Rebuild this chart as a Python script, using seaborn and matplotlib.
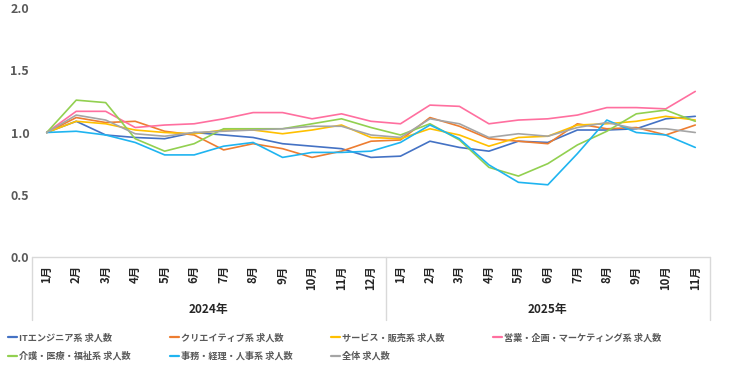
import pandas as pd
import matplotlib.pyplot as plt
import seaborn as sns
from matplotlib.lines import Line2D
from matplotlib.transforms import blended_transform_factory

# 月ラベル (2024年1月〜2025年11月)
months_2024 = [f"{m}月" for m in range(1, 13)]
months_2025 = [f"{m}月" for m in range(1, 12)]
year_labels = ["2024年", "2025年"]

series_names = [
    "ITエンジニア系 求人数",
    "クリエイティブ系 求人数",
    "サービス・販売系 求人数",
    "営業・企画・マーケティング系 求人数",
    "介護・医療・福祉系 求人数",
    "事務・経理・人事系 求人数",
    "全体 求人数",
]

it_eng = [1.00, 1.09, 0.98, 0.96, 0.95, 1.00, 0.98, 0.96, 0.91, 0.89, 0.87, 0.80,
          0.81, 0.93, 0.88, 0.85, 0.93, 0.92, 1.02, 1.02, 1.03, 1.11, 1.13]
creative = [1.00, 1.12, 1.08, 1.09, 1.01, 0.98, 0.86, 0.91, 0.87, 0.80, 0.85, 0.93,
            0.94, 1.12, 1.05, 0.95, 0.93, 0.91, 1.07, 1.03, 1.04, 0.98, 1.06]
service = [1.00, 1.09, 1.07, 1.02, 1.00, 0.99, 1.02, 1.02, 0.99, 1.02, 1.06, 0.96,
           0.95, 1.03, 0.98, 0.89, 0.96, 0.97, 1.06, 1.07, 1.09, 1.13, 1.10]
sales = [1.00, 1.17, 1.17, 1.04, 1.06, 1.07, 1.11, 1.16, 1.16, 1.11, 1.15, 1.09,
         1.07, 1.22, 1.21, 1.07, 1.10, 1.11, 1.14, 1.20, 1.20, 1.19, 1.33]
care = [1.00, 1.26, 1.24, 0.95, 0.85, 0.91, 1.03, 1.03, 1.03, 1.07, 1.11, 1.04,
        0.98, 1.07, 0.94, 0.72, 0.65, 0.75, 0.90, 1.01, 1.15, 1.18, 1.09]
office = [1.00, 1.01, 0.98, 0.92, 0.82, 0.82, 0.89, 0.92, 0.80, 0.84, 0.84, 0.85,
          0.92, 1.06, 0.95, 0.74, 0.60, 0.58, 0.83, 1.10, 1.00, 0.98, 0.88]
overall = [1.00, 1.14, 1.10, 0.99, 0.97, 1.00, 1.01, 1.02, 1.03, 1.05, 1.05, 0.98,
           0.96, 1.11, 1.07, 0.96, 0.99, 0.97, 1.04, 1.08, 1.03, 1.03, 1.00]

colors = ["#4472C4", "#ED7D31", "#FFC000", "#FF6F9F", "#92D050", "#1FB4F0", "#A5A5A5"]

all_values = [it_eng, creative, service, sales, care, office, overall]
month_labels = months_2024 + months_2025

rows = []
for name, vals in zip(series_names, all_values):
    for i, v in enumerate(vals):
        rows.append({"idx": i, "series": name, "value": v})
df = pd.DataFrame(rows)

sns.set_style("white")
plt.rcParams["font.family"] = ["Noto Sans CJK JP", "DejaVu Sans"]

fig = plt.figure(figsize=(7.34, 3.72), dpi=100)
ax = fig.add_axes([32 / 734, 115 / 372, 678 / 734, 249 / 372])

sns.lineplot(
    data=df,
    x="idx",
    y="value",
    hue="series",
    hue_order=series_names,
    palette=colors,
    linewidth=1.2,
    legend=False,
    ax=ax,
)

n = len(month_labels)
ax.set_xlim(-0.5, n - 0.5)
ax.set_ylim(0, 2.0)
ax.set_yticks([0, 0.5, 1.0, 1.5, 2.0])
ax.set_yticklabels(["0.0", "0.5", "1.0", "1.5", "2.0"], color="#595959",
                   fontweight="bold", fontsize=9)
ax.set_xticks(range(n))
ax.set_xticklabels(month_labels, rotation=90, fontsize=8.2, fontweight="bold",
                   va="top")
ax.tick_params(axis="both", length=0)
ax.tick_params(axis="x", pad=6)
ax.tick_params(axis="y", pad=2)
ax.set_xlabel("")
ax.set_ylabel("")
for s in ax.spines.values():
    s.set_visible(False)

# カテゴリ軸の枠線と年ラベル
trans = blended_transform_factory(ax.transData, ax.transAxes)
edge = "#D9D9D9"
ax.plot([-0.5, n - 0.5], [0, 0], color=edge, lw=1, transform=trans, clip_on=False)
n24 = len(months_2024)
for xv in [-0.5, n24 - 0.5, n - 0.5]:
    ax.plot([xv, xv], [0, -0.255], color=edge, lw=1, transform=trans, clip_on=False)
ax.text((n24 - 1) / 2, -0.21, year_labels[0], transform=trans, ha="center",
        va="center", fontsize=8.5, fontweight="bold")
ax.text((n24 + n - 1) / 2, -0.21, year_labels[1], transform=trans, ha="center",
        va="center", fontsize=8.5, fontweight="bold")

# 凡例 (Excel風に4列を手動配置)
handles = [Line2D([0], [0], color=c, lw=1.6) for c in colors]
columns = [[0, 4], [1, 5], [2, 6], [3]]
col_x = [8, 170, 331, 493]
for cx, idxs in zip(col_x, columns):
    fig.legend(
        [handles[i] for i in idxs],
        [series_names[i] for i in idxs],
        loc="upper left",
        bbox_to_anchor=(cx / 734, 1 - 333 / 372),
        frameon=False,
        borderpad=0,
        borderaxespad=0,
        handlelength=1.0,
        handletextpad=0.25,
        labelspacing=1.0,
        prop={"size": 6.6, "weight": "bold"},
        labelcolor="#595959",
    )

fig.savefig("out.png", dpi=100)
